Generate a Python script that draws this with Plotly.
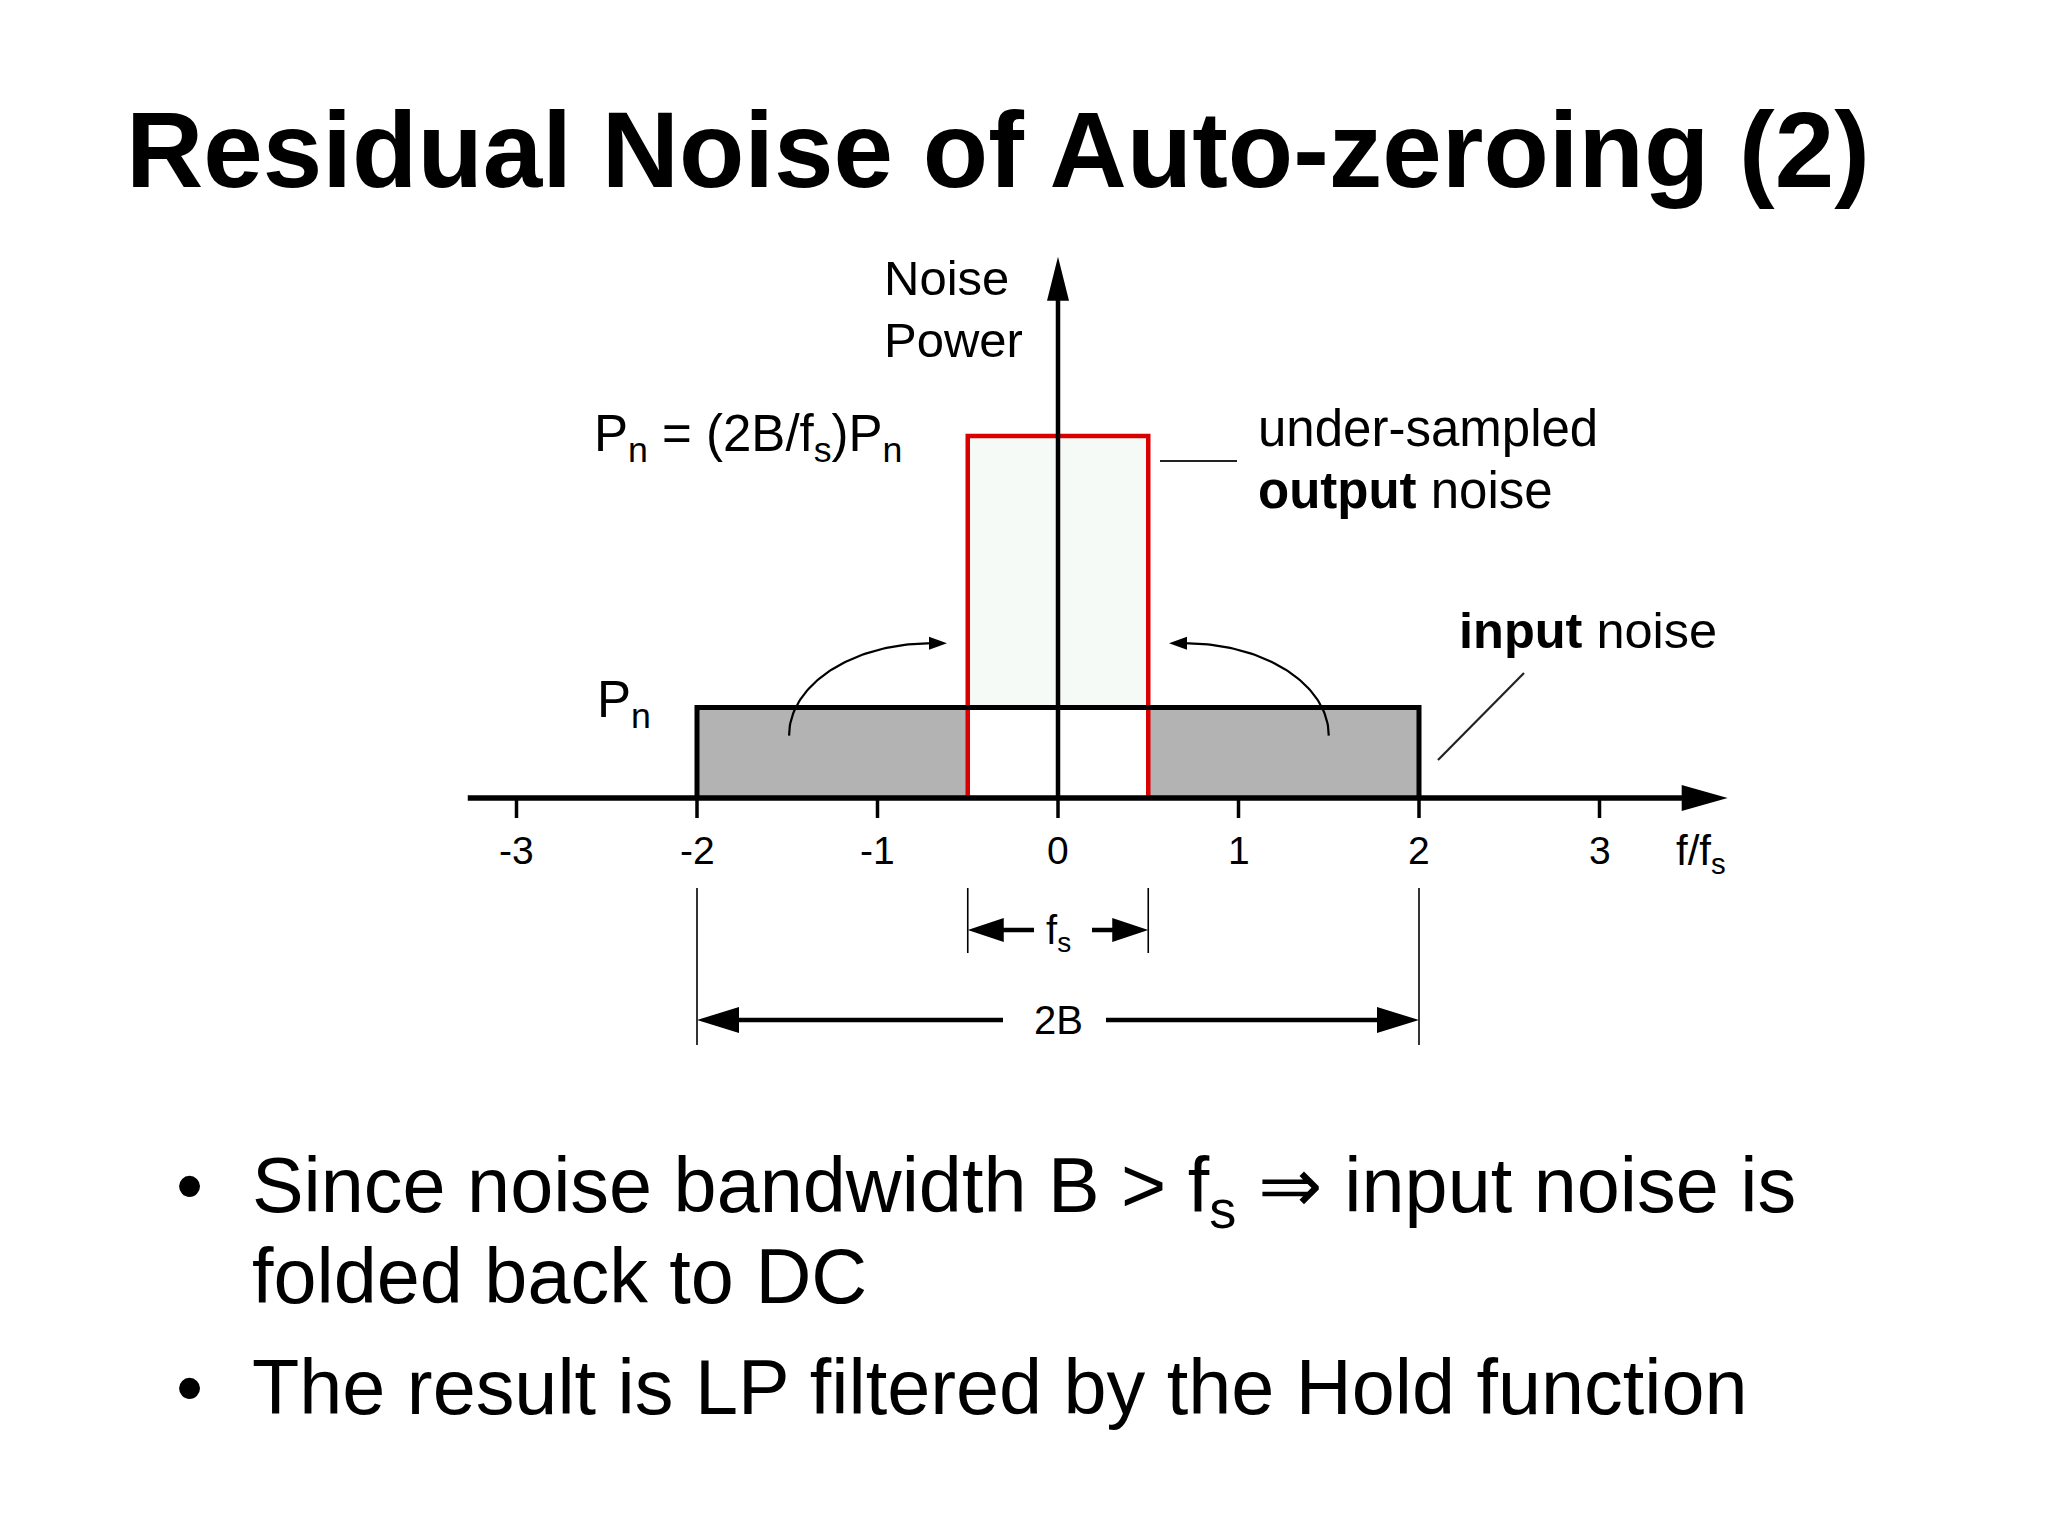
import numpy as np
import plotly.graph_objects as go

# ---------------- data (in units of f/fs and Pn) ----------------
tick_values = [-3, -2, -1, 0, 1, 2, 3]
tick_labels = ["-3", "-2", "-1", "0", "1", "2", "3"]
input_band = [-2.0, 2.0]        # input noise spans 2B  (f/fs)
input_level = 1.0               # Pn
output_band = [-0.5, 0.5]       # under-sampled band, width fs
output_level = 4.0              # (2B/fs) Pn
fold_start = [-1.49, 1.50]      # folding arrows start (f/fs)
fold_end = [-0.615, 0.615]      # folding arrows end (f/fs)
fold_start_level = 0.69
fold_end_level = 1.71
x_axis_span = [-3.27, 3.71]
y_axis_top = 5.98

# ---------------- page mapping ----------------
W, H = 2048, 1536
OX, OY = 1058.0, 798.0          # pixel of (0,0)
PX_X, PX_Y = 180.5, 90.5        # pixels per unit
xr = [-OX / PX_X, (W - OX) / PX_X]
yr = [(OY - H) / PX_Y, OY / PX_Y]

FONT = "Liberation Sans, Arial, Helvetica, sans-serif"


def X(px):
    return (px - OX) / PX_X


def Y(py):
    return (OY - py) / PX_Y


fig = go.Figure()

# input noise (gray) band
fig.add_trace(go.Scatter(
    x=[input_band[0], input_band[0], input_band[1], input_band[1], input_band[0]],
    y=[0, input_level, input_level, 0, 0],
    fill="toself", fillcolor="#b3b3b3", line=dict(width=0), mode="lines",
    hoverinfo="skip", showlegend=False))
# white below Pn inside output band
fig.add_trace(go.Scatter(
    x=[output_band[0], output_band[0], output_band[1], output_band[1], output_band[0]],
    y=[0, input_level, input_level, 0, 0],
    fill="toself", fillcolor="#ffffff", line=dict(width=0), mode="lines",
    hoverinfo="skip", showlegend=False))
# light fill above Pn inside output band
fig.add_trace(go.Scatter(
    x=[output_band[0], output_band[0], output_band[1], output_band[1], output_band[0]],
    y=[input_level, output_level, output_level, input_level, input_level],
    fill="toself", fillcolor="#f6faf6", line=dict(width=0), mode="lines",
    hoverinfo="skip", showlegend=False))
# red outline of output noise
fig.add_trace(go.Scatter(
    x=[output_band[0], output_band[0], output_band[1], output_band[1]],
    y=[0, output_level, output_level, 0],
    mode="lines", line=dict(color="#d80000", width=4.5),
    hoverinfo="skip", showlegend=False))
# black outline of input noise
fig.add_trace(go.Scatter(
    x=[input_band[0], input_band[0], input_band[1], input_band[1]],
    y=[0, input_level, input_level, 0],
    mode="lines", line=dict(color="#000000", width=5),
    hoverinfo="skip", showlegend=False))

shapes = []


def head(x, y, ang, L, Wd, color="#000000"):
    a = np.deg2rad(ang)
    ux, uy = np.cos(a), np.sin(a)
    bx, by = -L * ux, -L * uy
    pxp, pyp = -uy * Wd / 2, ux * Wd / 2
    path = (f"M0,0 L{bx + pxp:.2f},{by + pyp:.2f} "
            f"L{bx - pxp:.2f},{by - pyp:.2f} Z")
    return dict(type="path", xref="x", yref="y", xsizemode="pixel",
                ysizemode="pixel", xanchor=x, yanchor=y, path=path,
                fillcolor=color, line=dict(width=0), layer="above")


# folding arrows (quarter ellipses)
AH_L = 18
for s, e in zip(fold_start, fold_end):
    sign = 1 if e > s else -1
    e_shaft = e - sign * (AH_L - 2) / PX_X
    t = np.linspace(0, np.pi / 2, 60)
    cx = e_shaft
    ax_ = abs(e_shaft - s)
    by_ = fold_end_level - fold_start_level
    xs = cx - sign * ax_ * np.cos(t)
    ys = fold_start_level + by_ * np.sin(t)
    fig.add_trace(go.Scatter(x=xs, y=ys, mode="lines",
                             line=dict(color="#000000", width=2.2),
                             hoverinfo="skip", showlegend=False))
    shapes.append(head(e, fold_end_level, 0 if sign > 0 else 180, AH_L, 13))

# callout lines
fig.add_trace(go.Scatter(x=[X(1160), X(1237)], y=[Y(461), Y(461)], mode="lines",
                         line=dict(color="#222222", width=2.2),
                         hoverinfo="skip", showlegend=False))
fig.add_trace(go.Scatter(x=[X(1524), X(1438)], y=[Y(673), Y(760)], mode="lines",
                         line=dict(color="#222222", width=2.2),
                         hoverinfo="skip", showlegend=False))

# dimension extension lines
dim_fs_y = Y(930)
dim_2b_y = Y(1020)
for xv in input_band:
    fig.add_trace(go.Scatter(x=[xv, xv], y=[Y(888), Y(1045)], mode="lines",
                             line=dict(color="#000000", width=1.6),
                             hoverinfo="skip", showlegend=False))
for xv in output_band:
    fig.add_trace(go.Scatter(x=[xv, xv], y=[Y(888), Y(953)], mode="lines",
                             line=dict(color="#000000", width=1.6),
                             hoverinfo="skip", showlegend=False))

# dimension arrows
fig.add_trace(go.Scatter(x=[output_band[0] + 10 / PX_X, -24 / PX_X], y=[dim_fs_y] * 2, mode="lines",
                         line=dict(color="#000000", width=4.5), hoverinfo="skip", showlegend=False))
fig.add_trace(go.Scatter(x=[34 / PX_X, output_band[1] - 10 / PX_X], y=[dim_fs_y] * 2, mode="lines",
                         line=dict(color="#000000", width=4.5), hoverinfo="skip", showlegend=False))
fig.add_trace(go.Scatter(x=[input_band[0] + 10 / PX_X, -55 / PX_X], y=[dim_2b_y] * 2, mode="lines",
                         line=dict(color="#000000", width=4.5), hoverinfo="skip", showlegend=False))
fig.add_trace(go.Scatter(x=[48 / PX_X, input_band[1] - 10 / PX_X], y=[dim_2b_y] * 2, mode="lines",
                         line=dict(color="#000000", width=4.5), hoverinfo="skip", showlegend=False))
shapes.append(head(output_band[0], dim_fs_y, 180, 36, 24))
shapes.append(head(output_band[1], dim_fs_y, 0, 36, 24))
shapes.append(head(input_band[0], dim_2b_y, 180, 42, 26))
shapes.append(head(input_band[1], dim_2b_y, 0, 42, 26))

# axes
shapes.append(dict(type="line", xref="x", yref="y", x0=x_axis_span[0], y0=0,
                   x1=x_axis_span[1] - 30 / PX_X, y1=0,
                   line=dict(color="#000000", width=5.5), layer="above"))
shapes.append(head(x_axis_span[1], 0, 0, 46, 26))
shapes.append(dict(type="line", xref="x", yref="y", x0=0, y0=0,
                   x1=0, y1=y_axis_top - 30 / PX_Y,
                   line=dict(color="#000000", width=4.5), layer="above"))
shapes.append(head(0, y_axis_top, 90, 44, 22))
for tv in tick_values:
    shapes.append(dict(type="line", xref="x", yref="y", ysizemode="pixel",
                       yanchor=0, x0=tv, x1=tv, y0=0, y1=-20,
                       line=dict(color="#000000", width=3.5), layer="above"))

annotations = []


def txt(text, x, y, size, xanchor="left", yanchor="middle"):
    annotations.append(dict(text=text, x=x, y=y, xref="x", yref="y",
                            xanchor=xanchor, yanchor=yanchor, showarrow=False,
                            font=dict(family=FONT, size=size, color="#000000"),
                            align="left"))


# title
txt("<b>Residual Noise of Auto-zeroing (2)</b>", X(124), Y(150), 107)

# diagram labels
txt("Noise", X(882), Y(278), 49)
txt("Power", X(882), Y(340), 49)
txt("P<sub>n</sub> = (2B/f<sub>s</sub>)P<sub>n</sub>", X(592), Y(437), 51)
txt("P<sub>n</sub>", X(595), Y(703), 51)
txt("under-sampled", X(1256), Y(428), 51)
txt("<b>output</b> noise", X(1256), Y(490), 51)
txt("<b>input</b> noise", X(1457), Y(630), 50.5)

for tv, tl in zip(tick_values, tick_labels):
    txt(tl, tv, Y(850), 39, xanchor="center")
txt("f/f<sub>s</sub>", X(1674), Y(853), 42)
txt("f<sub>s</sub>", 0, Y(933), 40, xanchor="center")
txt("2B", 0, dim_2b_y, 40, xanchor="center")

# bullets
txt("•", X(189), Y(1185), 77.4, xanchor="center")
txt("Since noise bandwidth B &gt; f<sub>s</sub> ⇒ input noise is", X(250), Y(1190), 77.4)
txt("folded back to DC", X(250), Y(1276), 77.4)
txt("•", X(189), Y(1387), 77.4, xanchor="center")
txt("The result is LP filtered by the Hold function", X(250), Y(1387), 77.4)

fig.update_layout(
    width=W, height=H, margin=dict(l=0, r=0, t=0, b=0, pad=0),
    paper_bgcolor="#ffffff", plot_bgcolor="#ffffff",
    xaxis=dict(range=xr, visible=False, fixedrange=True),
    yaxis=dict(range=yr, visible=False, fixedrange=True),
    shapes=shapes, annotations=annotations, showlegend=False,
)

fig.write_html("out.html", config={"displayModeBar": False, "staticPlot": True},
               post_script="document.body.style.margin='0';document.body.style.overflow='hidden';")
